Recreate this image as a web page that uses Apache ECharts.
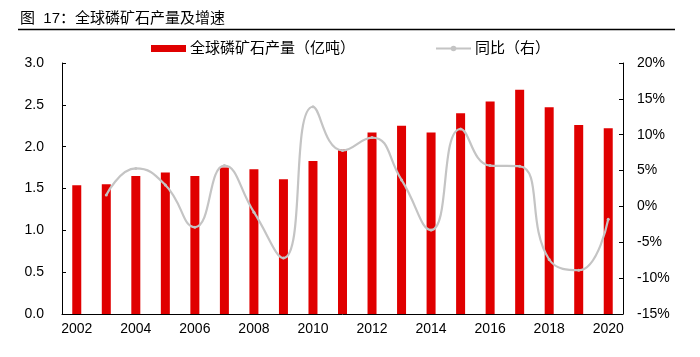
<!DOCTYPE html>
<html><head><meta charset="utf-8">
<script src="https://cdn.jsdelivr.net/npm/echarts@6/dist/echarts.min.js"></script>
<style>html,body{margin:0;padding:0;background:#fff}#c{width:700px;height:357px}</style>
</head><body><div id="c"></div>
<script>
const years = ['2002','2003','2004','2005','2006','2007','2008','2009','2010','2011','2012','2013','2014','2015','2016','2017','2018','2019','2020'];
const production = [1.54,1.55,1.65,1.69,1.65,1.75,1.73,1.61,1.83,1.97,2.17,2.25,2.17,2.40,2.54,2.68,2.47,2.26,2.22];
const yoy = [null,1.6,5.3,3.0,-2.9,5.7,-0.8,-7.2,13.9,7.8,9.6,3.7,-3.3,10.8,5.7,5.6,-7.4,-8.9,-1.8];
const leftTicks = [0,3,0.5];
const rightTicks = [-15,20,5];
const FONT = 'Liberation Sans, Arial, Noto Sans CJK SC, sans-serif';
const chart = echarts.init(document.getElementById('c'));
chart.setOption({
  animation:false,
  textStyle:{fontFamily:FONT},
  title:{text:'图  17：全球磷矿石产量及增速',left:20,top:11,padding:0,textStyle:{fontSize:15,fontWeight:'normal',color:'#000',fontFamily:FONT}},
  graphic:[{type:'line',shape:{x1:18,y1:29.5,x2:675,y2:29.5},style:{stroke:'#000',lineWidth:1.5}}],
  legend:{top:41,left:151,padding:0,itemGap:80,itemWidth:35,itemHeight:7,textStyle:{fontSize:15,color:'#000',fontFamily:FONT,padding:[0,0,0,-1]},
    data:[{name:'全球磷矿石产量（亿吨）',icon:'rect'},{name:'同比（右）'}]},
  grid:{left:62,right:77,top:63,bottom:43},
  xAxis:{type:'category',data:years,boundaryGap:true,
    axisLine:{lineStyle:{color:'#000',width:1}},
    axisTick:{inside:true,interval:0,length:4,lineStyle:{color:'#000'}},
    axisLabel:{interval:1,color:'#000',fontSize:14,margin:8,fontFamily:FONT}},
  yAxis:[
    {type:'value',min:leftTicks[0],max:leftTicks[1],interval:leftTicks[2],
      axisLine:{show:true,lineStyle:{color:'#000'}},axisTick:{show:true,inside:true,length:4,lineStyle:{color:'#000'}},
      splitLine:{show:false},
      axisLabel:{color:'#000',fontSize:14,margin:18,formatter:v=>v.toFixed(1),fontFamily:FONT}},
    {type:'value',min:rightTicks[0],max:rightTicks[1],interval:rightTicks[2],
      axisLine:{show:true,lineStyle:{color:'#000'}},axisTick:{show:true,inside:true,length:4,lineStyle:{color:'#000'}},
      splitLine:{show:false},
      axisLabel:{color:'#000',fontSize:14,margin:14,formatter:v=>v+'%',fontFamily:FONT}}
  ],
  series:[
    {name:'全球磷矿石产量（亿吨）',type:'bar',data:production,barWidth:9,itemStyle:{color:'#e00000'}},
    {name:'同比（右）',type:'line',yAxisIndex:1,data:yoy,smooth:0.5,symbol:'circle',symbolSize:3,
      lineStyle:{color:'#c4c4c4',width:2.2},itemStyle:{color:'#c4c4c4'}}
  ]
});
</script></body></html>
